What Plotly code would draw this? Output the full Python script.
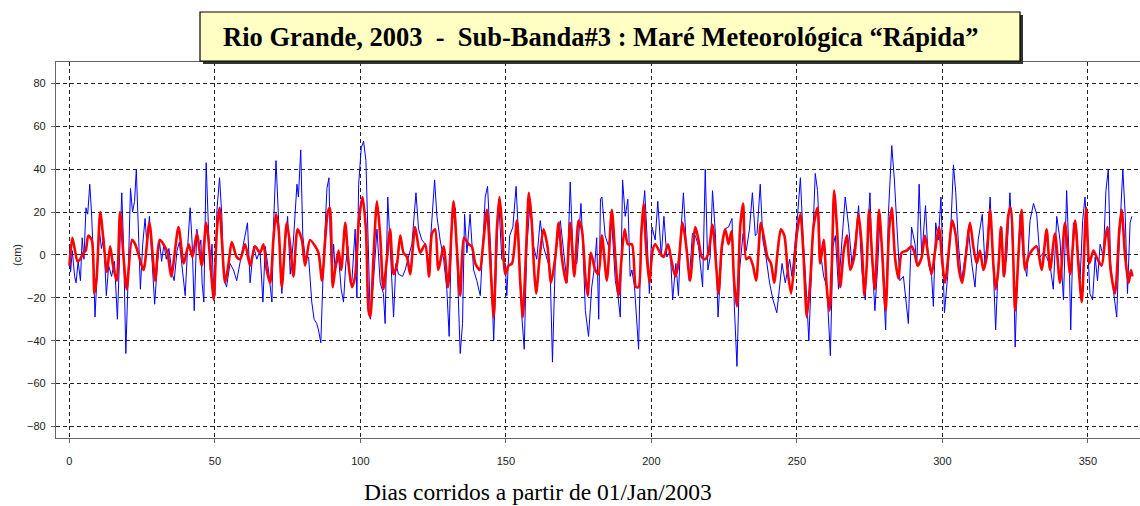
import plotly.graph_objects as go

# ---- data ----
blue_days = [0, 0.4, 1, 1.8, 2.3, 3, 3.8, 4.4, 5, 5.7, 6.3, 7, 7.6, 8.2, 8.8, 9.5, 10.3, 11, 11.8, 12.7, 13.5, 14.5, 15.5, 16.5, 17.3, 18, 18.6, 19.4, 20.2, 21, 21.7, 22.4, 23, 23.7, 24.4, 25.2, 26, 26.7, 27.5, 28.3, 29.3, 30.2, 31, 31.7, 32.5, 33.3, 34.2, 35.2, 36, 37, 37.8, 38.6, 39.8, 40.6, 41.5, 42.2, 42.9,
             43.8, 44.6, 45.2, 45.6, 46.2, 47, 47.8, 48.4, 49, 49.5, 50, 50.7, 51.6, 52.4, 53, 54, 55.2, 56.4, 57.5, 58.7, 59.8, 61.2, 62.1, 63.3, 64.4, 65.5, 66.5, 67.3, 68.4, 69.6, 70.1, 71, 71.9, 73, 74.1, 75, 75.9, 77, 78.2, 78.7, 79.5, 80.2, 81, 82.2, 83.3, 84.1, 85, 85.6, 86.4, 87.3, 88.5, 89.2,
             89.6, 90.2, 90.8, 91.3, 92.5, 93.4, 94.2, 95, 95.7, 96.5, 97.1, 98.2, 98.8, 99.4, 100.3, 101.1, 101.9, 102.6, 103.4, 104.5, 105.7, 106.8, 107.9, 108.5, 109.4, 110.2, 111.4, 112.2, 113.1, 114.5, 115.4, 116.5, 117.7, 119.1, 120, 121.1, 122.3, 123.4, 124.6, 125.5, 126.3, 127.4, 128.6, 129.7, 130.5, 131.4, 132.6, 133.5, 134.3, 135.1, 135.8,
             136.6, 137.7, 138.9, 140, 141.2, 142.1, 142.9, 143.7, 144.8, 145.8, 146.7, 147.5, 148.6, 149.8, 150.3, 151.3, 152.4, 153.5, 154.3, 155.5, 156.3, 157.2, 158.4, 159.5, 160.6, 161.8, 162.9, 164.1, 165.2, 166, 167, 168.7, 169.8, 171, 172.1, 173.2, 174.4, 175.8, 176.7, 177.3, 178.4, 179.5, 180.5, 181.2, 181.9, 182.5,
             183, 184.1, 185.3, 186.4, 187.6, 188.5, 189.3, 190.1, 191, 191.9, 192.7, 193.3, 194.2, 195, 195.6, 196.5, 197.7, 198.5, 199.3, 200.2, 201.3, 202.2, 203.4, 204.3, 205.3, 206.5, 207.3, 208.4, 209.3, 210.2, 211, 211.9, 213, 214.1, 215.1, 216.2, 217.6, 218.5, 219.4, 220.2, 221, 222, 222.9, 224, 225.1, 226.5, 227.7, 228.5,
             229.4, 230.3, 231.5, 232.6, 233.7, 234.7, 235.7, 236.3, 237.4, 238.3, 239.5, 240.6, 241.8, 243.1, 244.1, 244.9, 246, 247.5, 248.3, 249.4, 250.2, 251.2, 252.1, 253.2, 254.1, 255.2, 256.3, 257.1, 258, 259.2, 260.3, 261.5, 262.4, 263.2, 264.3, 265.5, 266.6, 267.8, 268.9, 270.1, 271.2, 272.3, 273.5, 274.4, 275.1,
             275.9, 276.8, 277.8, 278.6, 279.7, 280.5, 281.4, 282.6, 283.5, 284.3, 285.4, 286.6, 287.4, 288.3, 289.4, 290.6, 291.2, 292, 292.9, 294.2, 295.2, 296.3, 296.9, 297.7, 298.6, 299.5, 300.7, 301.8, 303, 303.8, 304.6, 305.5, 306.6, 307.8, 308.9, 310.1, 311.2, 312.3, 313.7, 314.6, 315.6, 316.4, 317.5, 318.3, 319.2, 320.4,
             320.9, 322.1, 323.2, 324.4, 325, 325.8, 326.7, 327.8, 329, 330.1, 331.3, 332.4, 333.5, 334.7, 335.8, 337, 338.1, 339.3, 340.4, 341.6, 342.7, 343.6, 344.1, 345, 346.1, 347.3, 348.2, 349, 349.8, 350.7, 351.6, 352.5, 353.3, 354.2, 355.3, 356.2, 357, 357.8, 358.7, 359.9, 360.8, 362, 362.8, 363.6, 364.5, 365.1]
blue_vals = [5, -8, 2, -10, -13, -3, -12, 8, -2, 22, 19, 33, 20, 0, -29, -10, 12, 3, 8, -19, -5, -10, -3, -30, 0, 29, 5, -46, -10, 31, 20, 25, 40, 10, -16, 5, 17, 4, 18, 0, -23, -5, 6, -3, 5, -2, 3, -8, -12, 2, 6, -4, -19, 3, 22, 5, -26,
             12, 3, 7, -13, -22, 43, 12, -7, 5, -13, -19, 21, 36, 18, -10, -15, -4, -7, -12, -4, 5, 15, -13, 4, -2, 2, -22, 4, -7, -22, 12, 44, 18, -18, 5, 18, -9, 7, 33, 27, 49, 9, -1, -1, -22, -30, -32, -35, -41, -4, 31, 36,
             9, -9, 5, -7, -1, -16, -22, -4, 4, -13, -12, 12, -20, 33, 50, 53, 44, 12, -30, -12, 12, -13, -18, -32, 27, 5, -29, -4, -9, -10, -7, -1, 5, 29, 12, 7, 5, -7, 15, 35, 18, 7, -2, -16, -38, 15, 22, -16, -46, -32, 19,
             1, 19, -7, -12, -19, 7, 27, 32, 2, -40, -4, 26, -2, -4, -19, 9, 13, 32, 10, -29, -44, 4, 26, 4, -2, 16, 4, -2, -7, -50, -1, 16, 2, -13, 34, -4, -4, 24, -4, -26, -38, -15, -5, 8, -30, 26,
             27, 9, 4, 15, -12, -19, -29, 35, 18, 26, -10, -7, -15, -32, -44, 12, 30, 9, -18, 13, 7, 25, -1, 18, -1, 2, -21, -4, -19, 12, 29, 7, -12, 10, 9, 4, -15, 40, -7, -1, 30, 10, -29, -2, 12, 13, 17, -24,
             -52, -7, 10, 2, 12, 29, 9, 10, 33, 7, -2, -13, -21, -27, -15, -4, -13, -2, -10, 5, 18, 36, 9, -16, -40, -1, 38, 30, 2, -10, -15, -47, 4, 9, -16, 7, 27, 13, -4, 7, 23, -7, -21, 12, 29,
             -4, -26, -4, 19, -13, -35, 18, 51, 35, 16, -12, -10, -21, -32, 13, 5, -5, 33, -1, 23, -4, -10, -24, 15, 7, 27, -27, -10, 16, 42, 29, 5, -12, -1, 12, -4, -15, 7, 19, -4, 9, 27, -7, -35, -4, 13,
             -10, -1, 29, -4, -43, -7, 19, -1, -10, 16, 24, 19, -1, 1, -1, -5, -16, 18, 7, -21, 30, -4, -35, 15, 12, -12, 16, 27, 7, -18, -21, -1, -12, 5, -1, 30, 40, -4, -16, -29, 7, 40, 19, -18, 15, 18]

red_days = [0, 1, 1.8, 2.8, 3.7, 4.8, 5.6, 6.5, 7.7, 8.6, 9.4, 10.6, 11.7, 12.9, 14, 15, 16.3, 17.4, 18.6, 19.7, 21.5, 22.6, 23.8, 25.5, 27.5, 29.5, 31, 33.5, 35, 37.5, 39.3, 41,
            42.3, 43.8, 45.5, 47, 47.8, 49, 49.6, 50.7, 51.6, 52.4, 53.5, 54.7, 55.8, 57.5, 58.7, 60.4, 62.1, 63.8, 65.5, 66.7, 67.8, 69, 70.1, 71, 71.9, 73, 74.7, 75.9, 77, 78.4, 79.9, 81, 82.7, 84.5, 85.6, 86.8, 87.9, 88.8,
            89.5, 90.5, 91.3, 92.5, 93.4, 94.8, 95.9, 97.1, 98.2, 99.4, 100.7, 101.9, 102.8, 103.4, 104.5, 105.7, 106.8, 107.9, 109.1, 110.2, 111.4, 112.5, 113.7, 114.8, 116, 117.1, 118.8, 120.5, 122.3, 123.6, 124.6, 125.7, 126.8, 128.6, 130.1, 132, 133.1, 134.3, 135.6,
            137.2, 138.3, 139.5, 141, 142.1, 143.5, 144.6, 145.8, 146.9, 147.8, 148.6, 149.8, 150.9, 152.1, 153.8, 154.9, 155.8, 157, 157.9, 158.9, 159.7, 160.4, 161.6, 162.9, 164.3, 165.5, 167, 168.1, 169.2, 170.7, 172.1, 173.5, 175, 176.1, 177.3, 178.1, 179.2, 180.7,
            181.8, 183, 184.7, 186.4, 187.6, 188.7, 189.6, 190.8, 191.9, 193.3, 194.7, 195.6, 196.5, 197.3, 198.1, 199.3, 200.4, 201.3, 203, 204.2, 205.7, 206.8, 208.2, 209.3, 210.7, 211.9, 213.3, 215.1, 216.2, 217.3, 218.5, 219.6, 221, 222.2, 223.1, 224.2, 225.4, 226.5, 227.5,
            228.4, 229.4, 230.5, 231.5, 232.6, 233.7, 234.9, 236, 237.6, 238.8, 239.9, 241.1, 242.2, 243.4, 244.5, 245.7, 246.8, 248, 249.1, 250, 251.2, 252.3, 253.4, 254.6, 255.7, 257.1, 258, 259.2, 260.3, 261.2, 262, 262.8, 263.8, 264.9, 266.1, 267.2, 268.3, 269.7, 271.2, 272.3, 273.2, 274, 274.8,
            275.9, 276.8, 278.2, 279.4, 280.5, 281.7, 282.6, 283.7, 284.9, 286, 287.7, 289.4, 290.4, 291.5, 292.9, 294, 295.2, 296.3, 297.5, 298.8, 300, 300.9, 302, 303.4, 304.6, 305.7, 306.8, 308, 309.5, 310.6, 311.8, 312.9, 314.1, 315.2, 316.4, 317.5, 318.3, 319.2, 320.1,
            321.2, 322.7, 323.5, 325, 326.1, 327.2, 328.4, 329.5, 330.7, 332.4, 334.1, 335.8, 337, 338.7, 340.4, 342.1, 343.9, 345.6, 346.7, 347.9, 349.4, 350.5, 351.9, 353.3, 354.7, 355.9, 356.7, 357.8, 359.3, 360.8, 361.6, 362.8, 364, 364.8, 365.3]
red_vals = [-5, 8, 3, -3, -2, 1, 2, 9, 7, -18, -10, 20, 7, -8, 4, -5, -12, 20, -1, -16, 7, 5, 0, -7, 15, -12, 7, 2, -10, 13, -4, 5,
            -1, 10, -5, 15, 7, -13, -21, 12, 22, 7, -13, -4, 6, -1, -2, 5, -5, 4, 1, 5, -7, -13, 7, 19, 12, -15, 15, 4, -10, 12, 7, -5, 7, 4, 1, -12, 7, 20,
            22, -15, -7, 2, -7, 15, -4, -15, -10, 15, 27, 12, -26, -29, -1, 25, 9, -16, -2, 12, -9, -5, 9, 1, -1, -9, 13, 1, 5, -10, 10, 12, -7, 4, -15, 25, 4, -19, 8,
            5, 4, -4, -7, 4, 21, -2, -29, 12, 27, 15, -9, -5, -4, 16, -12, -29, 4, 29, 15, -7, -18, -1, 12, 4, -13, -1, 15, -1, -13, 15, -10, 16, 12, -10, -19, 1, -7,
            -9, 9, -12, 21, -1, -19, -4, 12, 5, 5, -15, -15, 9, 24, 5, -13, 2, 5, 1, -1, 5, -2, -10, -4, 15, 5, -12, 13, 7, -1, -2, 1, 14, -4, -18, 4, 12, 5, 11,
            -12, -24, 13, 24, -2, -1, -5, -12, 15, 7, -1, -4, -13, 2, 12, 9, -7, -18, -4, 10, 19, -1, -29, -12, 13, 22, -4, 7, -16, -26, -4, 30, 12, -15, 2, 9, -7, -1, 19, 4, -19, -5, 21,
            -2, -16, 21, -1, -26, 12, 22, -1, -11, 1, 2, 4, 1, -5, -1, 9, -1, -9, 2, 13, -4, -13, -1, 16, 9, -7, -13, -1, 15, 4, -4, 2, -7, -1, 21, -4, -16, -7, 13,
            -10, 19, 22, -26, -1, 21, -7, -1, 2, 4, -7, 12, -7, 10, -13, 15, -9, 16, -4, -22, 22, -4, 2, -2, -5, 7, 13, -7, -18, 12, 21, -1, -13, -7, -10]

x_ticks = [0, 50, 100, 150, 200, 250, 300, 350]
y_ticks = [-80, -60, -40, -20, 0, 20, 40, 60, 80]

title_text = "Rio Grande, 2003\u00a0\u00a0-\u00a0\u00a0Sub-Banda#3 : Maré Meteorológica “Rápida”"
x_title = "Dias corridos a partir de 01/Jan/2003"
y_title = "(cm)"

# ---- figure ----
W, H = 1140, 506
L, R, T, B = 56, 0, 62, 68
pw, ph = W - L - R, H - T - B


def px(xp):
    return (xp - L) / pw


def py(yp):
    return (H - B - yp) / ph


fig = go.Figure()
fig.add_trace(go.Scatter(x=blue_days, y=blue_vals, mode="lines",
                         line=dict(color="#0000FF", width=1), showlegend=False))
fig.add_trace(go.Scatter(x=red_days, y=red_vals, mode="lines",
                         line=dict(color="#FF0000", width=2.6, shape="spline", smoothing=0.7),
                         showlegend=False))

grid = dict(showgrid=True, gridcolor="#222222", gridwidth=1, griddash="4px,3px",
            zeroline=False, showline=True, linecolor="#666666", linewidth=1.2,
            ticks="outside", ticklen=4, tickcolor="#666666",
            tickfont=dict(family="Liberation Sans, Arial, sans-serif", size=11, color="#222222"))

fig.update_xaxes(range=[-4.6, 367.9], tickvals=x_ticks, mirror=True,
                 ticklabelstandoff=9, **grid)
fig.update_yaxes(range=[-85.4, 90], tickvals=y_ticks, mirror=False,
                 ticklabelstandoff=3, **grid)

# title box with shadow
fig.add_shape(type="rect", xref="paper", yref="paper",
              x0=px(203), x1=px(1023), y0=py(64), y1=py(15),
              fillcolor="#333333", line=dict(width=0), layer="above")
fig.add_shape(type="rect", xref="paper", yref="paper",
              x0=px(200), x1=px(1020), y0=py(61), y1=py(12),
              fillcolor="#FFFFC4", line=dict(color="#000000", width=1.2), layer="above")
fig.add_annotation(xref="paper", yref="paper", x=px(600), y=py(37), text="<b>" + title_text + "</b>",
                   showarrow=False, font=dict(family="Liberation Serif, Times New Roman, serif", size=26.5, color="#000000"),
                   xanchor="center", yanchor="middle")
fig.add_annotation(xref="paper", yref="paper", x=px(538), y=py(492), text=x_title,
                   showarrow=False, font=dict(family="Liberation Serif, Times New Roman, serif", size=23.5, color="#000000"),
                   xanchor="center", yanchor="middle")
fig.add_annotation(xref="paper", yref="paper", x=px(17), y=py(255), text=y_title, textangle=-90,
                   showarrow=False, font=dict(family="Liberation Sans, Arial, sans-serif", size=11, color="#222222"),
                   xanchor="center", yanchor="middle")

fig.update_layout(width=W, height=H, margin=dict(l=L, r=R, t=T, b=B, pad=0),
                  paper_bgcolor="white", plot_bgcolor="white")

fig.write_html("out.html", config={"displayModeBar": False},
               post_script="document.body.style.margin='0';document.body.style.overflow='hidden';")
